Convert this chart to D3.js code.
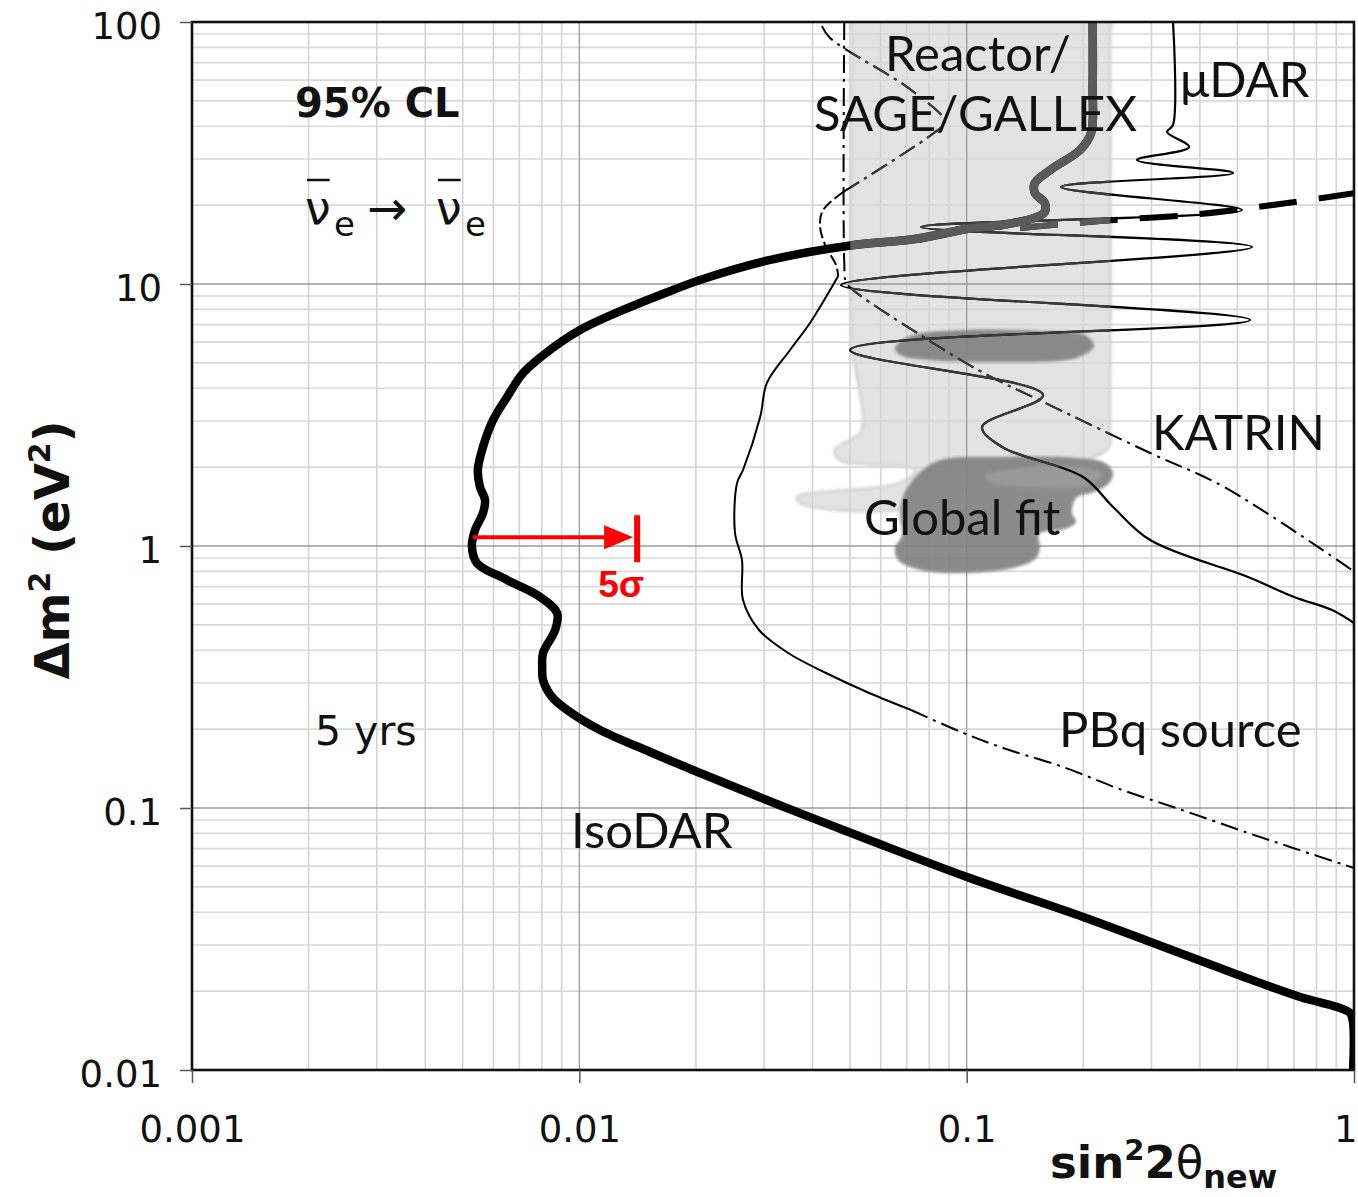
<!DOCTYPE html>
<html>
<head>
<meta charset="utf-8">
<script src="https://cdn.jsdelivr.net/npm/d3@7"></script>
<style>
  body { margin: 0; background: #fff; }
  svg { display: block; }
</style>
</head>
<body>
<div id="chart"></div>
<script>
/* DATA  [sin^2 2theta, dm^2 (eV^2)] */
const xTicks = [0.001, 0.01, 0.1, 1];
const xTickLabels = ["0.001", "0.01", "0.1", "1"];
const yTicks = [0.01, 0.1, 1, 10, 100];
const yTickLabels = ["0.01", "0.1", "1", "10", "100"];

// IsoDAR 5 yrs, 95% CL (thick)
const isodar = [
  [0.2115,100],[0.2115,56.5],[0.2095,37.7],[0.1963,32.5],[0.1642,27.2],[0.150,24.3],[0.150,22.25],
  [0.159,20.4],[0.159,18.8],[0.150,17.9],[0.1234,16.8],[0.1033,16.36],[0.0736,14.85],[0.0512,14.09],
  [0.0311,12.35],[0.0205,10.36],[0.01745,9.49],[0.01297,7.96],[0.01004,6.675],[0.0084,5.60],
  [0.00716,4.575],[0.00651,3.705],[0.00599,3.027],[0.00564,2.387],[0.00547,1.95],[0.00554,1.68],
  [0.00571,1.498],[0.00564,1.336],[0.00538,1.151],[0.00528,1.0],[0.00544,0.861],[0.00651,0.742],
  [0.00792,0.639],[0.00876,0.555],[0.00866,0.478],[0.00806,0.3905],[0.00802,0.345],[0.00806,0.308],
  [0.0085,0.2652],[0.00946,0.2325],[0.01131,0.1985],[0.01523,0.1636],[0.0205,0.136],[0.0338,0.1009],
  [0.056,0.0755],[0.1002,0.0545],[0.1998,0.03837],[0.303,0.03053],[0.4874,0.02346],[0.7259,0.019],
  [0.9046,0.0174],[0.977,0.0165],[0.9947,0.0151],[0.9947,0.01]
];
// thick dashed continuation at high dm^2
const isodarDashed = [[0.1374,16.36],[0.2211,17.4],[0.4005,18.5],[0.6444,20.2],[1.0,22.2]];

const muDAR = [
  [0.341,100],[0.341,40.45],[0.3292,38.04],[0.3752,33.33],[0.2754,29.74],[0.4874,26.53],[0.1753,23.45],
  [0.514,19.16],[0.0763,16.5],[0.5456,13.84],[0.0474,9.91],[0.5391,7.29],[0.05,5.6],[0.1575,3.77],
  [0.1096,2.846],[0.1234,2.387],[0.1998,1.834],[0.2388,1.409],[0.2976,1.054],[0.5328,0.7615],
  [0.7004,0.639],[0.878,0.5696],[1.0,0.508]
];

const katrin = [
  [0.0483,100],[0.0483,12.13],[0.0488,10.18],[0.0509,9.49],[0.0745,6.50],[0.1106,4.575],
  [0.1538,3.608],[0.2976,2.265],[0.4621,1.68],[1.0,0.80]
];

// PBq source, in pieces by line style
const pbqUpper = [[0.0423,96.5],[0.0444,86.9],[0.0719,55.0],[0.088,41.5],[0.0829,38.0],[0.048,22.44]];
const pbqKink = [[0.048,22.44],[0.0426,19.16],[0.0418,16.8],[0.0431,14.09],[0.046,11.82],[0.0466,10.73]];
const pbqMain = [
  [0.0466,10.73],[0.0394,7.10],[0.035,5.6],[0.0305,4.19],[0.0293,3.108],[0.02646,1.95],[0.02554,1.74],
  [0.02523,1.121],[0.0263,0.884],[0.02646,0.622],[0.0291,0.478],[0.0346,0.3905],[0.04335,0.3275],
  [0.056,0.2748],[0.0719,0.2366]
];
const pbqTail = [
  [0.0719,0.2366],[0.0967,0.195],[0.1242,0.1694],[0.1774,0.1434],[0.2519,0.1172],[0.3473,0.1],
  [0.5328,0.0803],[0.684,0.071],[1.0,0.059]
];

// Reactor / SAGE / GALLEX allowed region (light band)
const reactorBand = [
  [0.0506,100],[0.0506,90],[0.0506,5.6],[0.0515,4.82],[0.054,3.108],[0.0531,2.70],[0.0457,2.325],
  [0.0471,2.13],[0.0736,1.95],[0.0673,1.74],[0.0365,1.538],[0.0372,1.459],[0.0673,1.372],
  [0.122,1.786],[0.2133,2.186],[0.2332,2.387],[0.2346,2.846],[0.2346,90],[0.2346,100]
];

// Global fit regions (dark)
const globalFitUpper = [
  [0.0653,5.70],[0.0714,6.33],[0.0991,6.675],[0.1547,6.615],[0.2021,6.39],[0.2133,5.80],
  [0.1916,5.22],[0.1234,5.04],[0.0795,5.13],[0.0673,5.36]
];
const globalFitLower = [
  [0.0697,1.636],[0.0829,2.092],[0.1234,2.186],[0.1916,2.167],[0.2277,2.074],[0.2388,1.899],
  [0.2332,1.74],[0.2133,1.607],[0.1916,1.525],[0.1871,1.336],[0.1916,1.235],[0.1795,1.161],
  [0.1538,1.111],[0.1547,0.991],[0.1511,0.90],[0.1349,0.8315],[0.0991,0.789],[0.0758,0.81],
  [0.0665,0.884],[0.0653,0.9826],[0.0681,1.102],[0.0673,1.313]
];
const globalFitInner = [
  [0.1115,1.85],[0.1374,1.985],[0.1963,2.002],[0.2237,1.883],[0.2083,1.71],[0.1458,1.68],[0.1149,1.74]
];

// 5 sigma arrow: from IsoDAR reach to 5 sigma reach at dm^2 ~ 1
const arrowDm2 = 1.08, arrowFrom = 0.00531, arrowTo = 0.0141;

/* LAYOUT */
const width = 1358, height = 1197;
const plotLeft = 192, plotRight = 1354, plotTop = 22, plotBottom = 1070;

const x = d3.scaleLog().domain([0.001, 1]).range([plotLeft, plotRight]);
const y = d3.scaleLog().domain([0.01, 100]).range([plotBottom, plotTop]);

const svg = d3.select("#chart").append("svg")
  .attr("width", width)
  .attr("height", height);

const defs = svg.append("defs");
defs.append("clipPath").attr("id", "plotClip")
  .append("rect").attr("x", plotLeft).attr("y", plotTop)
  .attr("width", plotRight - plotLeft).attr("height", plotBottom - plotTop);

const line = d3.line().x(d => x(d[0])).y(d => y(d[1])).curve(d3.curveCatmullRom.alpha(0.5));
const blob = d3.line().x(d => x(d[0])).y(d => y(d[1])).curve(d3.curveCatmullRomClosed.alpha(0.5));

defs.append("clipPath").attr("id", "bandClip")
  .append("path").attr("d", blob(reactorBand));
defs.append("filter").attr("id", "soft")
  .append("feGaussianBlur").attr("stdDeviation", 1.6);

const plot = svg.append("g").attr("clip-path", "url(#plotClip)");

// band
plot.append("path")
  .attr("d", blob(reactorBand))
  .attr("fill", "#e3e3e3")
  .attr("stroke", "#d0d0d0")
  .attr("stroke-width", 2.5)
  .attr("filter", "url(#soft)");

// GRID
const decades = [0.001, 0.01, 0.1];
const xMinor = decades.flatMap(d => d3.range(2, 10).map(k => k * d));
const yMinor = [0.01, 0.1, 1, 10].flatMap(d => d3.range(2, 10).map(k => k * d));

plot.selectAll("line.xminor").data(xMinor).join("line")
  .attr("x1", d => x(d)).attr("x2", d => x(d)).attr("y1", plotTop).attr("y2", plotBottom)
  .attr("stroke", "#d4d4d4").attr("stroke-width", 1.6);
plot.selectAll("line.yminor").data(yMinor).join("line")
  .attr("y1", d => y(d)).attr("y2", d => y(d)).attr("x1", plotLeft).attr("x2", plotRight)
  .attr("stroke", "#d9d9d9").attr("stroke-width", 1.6);
plot.selectAll("line.xmajor").data(xTicks).join("line")
  .attr("x1", d => x(d)).attr("x2", d => x(d)).attr("y1", plotTop).attr("y2", plotBottom)
  .attr("stroke", "#9a9a9a").attr("stroke-width", 1.3);
plot.selectAll("line.ymajor").data(yTicks).join("line")
  .attr("y1", d => y(d)).attr("y2", d => y(d)).attr("x1", plotLeft).attr("x2", plotRight)
  .attr("stroke", "#9a9a9a").attr("stroke-width", 1.3);

// global fit blobs
plot.append("path").attr("d", blob(globalFitUpper)).attr("fill", "#828282").attr("opacity", 0.92).attr("filter", "url(#soft)");
plot.append("path").attr("d", blob(globalFitLower)).attr("fill", "#828282").attr("opacity", 0.92).attr("filter", "url(#soft)");
plot.append("path").attr("d", blob(globalFitInner)).attr("fill", "#999").attr("filter", "url(#soft)");

// CURVES
function drawCurves(g, thick, thin) {
  const dashDot = "18,6,3,6";
  g.append("path").attr("d", line(pbqUpper)).attr("fill", "none").attr("stroke", thin)
    .attr("stroke-width", 2).attr("stroke-dasharray", dashDot);
  g.append("path").attr("d", line(pbqKink)).attr("fill", "none").attr("stroke", thin)
    .attr("stroke-width", 2).attr("stroke-dasharray", "11,4");
  g.append("path").attr("d", line(pbqMain)).attr("fill", "none").attr("stroke", thin)
    .attr("stroke-width", 2);
  g.append("path").attr("d", line(pbqTail)).attr("fill", "none").attr("stroke", thin)
    .attr("stroke-width", 2).attr("stroke-dasharray", dashDot);
  g.append("path").attr("d", line(katrin)).attr("fill", "none").attr("stroke", thin)
    .attr("stroke-width", 2).attr("stroke-dasharray", dashDot);
  g.append("path").attr("d", line(muDAR)).attr("fill", "none").attr("stroke", thin)
    .attr("stroke-width", 2.2);
  g.append("path").attr("d", line(isodarDashed)).attr("fill", "none").attr("stroke", thick)
    .attr("stroke-width", 6).attr("stroke-dasharray", "38,22");
  g.append("path").attr("d", line(isodar)).attr("fill", "none").attr("stroke", thick)
    .attr("stroke-width", 8.5).attr("stroke-linejoin", "round");
}
drawCurves(plot.append("g"), "#000", "#000");
// inside the reactor band the curves read grey
drawCurves(plot.append("g").attr("clip-path", "url(#bandClip)"), "#5a5a5a", "#3a3a3a");

// 5 sigma arrow
const ay = y(arrowDm2), ax0 = x(arrowFrom), ax1 = x(arrowTo);
svg.append("line").attr("x1", ax0).attr("x2", ax1 - 30).attr("y1", ay).attr("y2", ay)
  .attr("stroke", "#ff0000").attr("stroke-width", 4);
svg.append("path")
  .attr("d", `M${ax1 - 4},${ay} L${ax1 - 33},${ay - 12} L${ax1 - 33},${ay + 12} Z`)
  .attr("fill", "#ff0000");
svg.append("line").attr("x1", ax1).attr("x2", ax1).attr("y1", ay - 22).attr("y2", ay + 25)
  .attr("stroke", "#ff0000").attr("stroke-width", 6);
svg.append("text").attr("x", ax1 - 39).attr("y", ay + 60)
  .attr("font-family", "Liberation Sans, Arial, sans-serif").attr("font-weight", "bold")
  .attr("font-size", 37).attr("fill", "#ff0000").text("5σ");

// FRAME
svg.append("rect").attr("x", plotLeft).attr("y", plotTop)
  .attr("width", plotRight - plotLeft).attr("height", plotBottom - plotTop)
  .attr("fill", "none").attr("stroke", "#111").attr("stroke-width", 2.6);

// AXES
const xAxis = d3.axisBottom(x).tickValues(xTicks).tickFormat((d, i) => xTickLabels[i])
  .tickSize(13).tickPadding(33);
const yAxis = d3.axisLeft(y).tickValues(yTicks).tickFormat((d, i) => yTickLabels[i])
  .tickSize(12).tickPadding(18);

const gx = svg.append("g").attr("transform", `translate(0,${plotBottom})`).call(xAxis);
const gy = svg.append("g").attr("transform", `translate(${plotLeft},0)`).call(yAxis);
[gx, gy].forEach(g => {
  g.select(".domain").remove();
  g.selectAll(".tick line").attr("stroke", "#555").attr("stroke-width", 1.5);
  g.selectAll(".tick text").attr("font-family", "DejaVu Sans, Verdana, sans-serif")
    .attr("font-size", 37).attr("fill", "#111");
});
gy.selectAll(".tick text").attr("dy", "0.45em");
// last x label sits against the right edge of the page
gx.selectAll(".tick text").filter(d => d === 1).attr("text-anchor", "end").attr("dx", 3);

// axis titles
const xt = svg.append("text").attr("x", 1050).attr("y", 1178)
  .attr("font-family", "DejaVu Sans, Verdana, sans-serif").attr("font-weight", "bold")
  .attr("font-size", 45).attr("fill", "#111");
xt.append("tspan").text("sin");
xt.append("tspan").attr("dy", -18).attr("font-size", 29).text("2");
xt.append("tspan").attr("dy", 18).text("2");
xt.append("tspan").attr("font-weight", "normal").text("θ");
xt.append("tspan").attr("dy", 10).attr("font-size", 32).text("new");

const yt = svg.append("text").attr("transform", "translate(69,550) rotate(-90)")
  .attr("text-anchor", "middle")
  .attr("font-family", "DejaVu Sans, Verdana, sans-serif").attr("font-weight", "bold")
  .attr("font-size", 48).attr("fill", "#111");
yt.append("tspan").text("Δm");
yt.append("tspan").attr("dy", -19).attr("font-size", 30).text("2");
yt.append("tspan").attr("dy", 19).text(" (eV");
yt.append("tspan").attr("dy", -19).attr("font-size", 30).text("2");
yt.append("tspan").attr("dy", 19).text(")");

// ANNOTATIONS
svg.append("text").attr("x", 295).attr("y", 117)
  .attr("font-family", "DejaVu Sans, Verdana, sans-serif").attr("font-weight", "bold")
  .attr("font-size", 40).attr("fill", "#111").text("95% CL");

function nuBar(xp) {
  const t = svg.append("text").attr("x", xp).attr("y", 224)
    .attr("font-family", "DejaVu Sans, Verdana, sans-serif").attr("font-size", 46).attr("fill", "#111")
    .text("ν");
  const b = t.node().getBBox();
  svg.append("line").attr("x1", b.x + 2).attr("x2", b.x + b.width - 1).attr("y1", 180).attr("y2", 180)
    .attr("stroke", "#111").attr("stroke-width", 2.5);
  svg.append("text").attr("x", xp + 29).attr("y", 236)
    .attr("font-family", "DejaVu Sans, Verdana, sans-serif").attr("font-size", 34).attr("fill", "#111")
    .text("e");
}
nuBar(305);
nuBar(436);
svg.append("text").attr("x", 367).attr("y", 225)
  .attr("font-family", "DejaVu Sans, Verdana, sans-serif").attr("font-size", 48).attr("fill", "#111")
  .text("→");

svg.append("text").attr("x", 315).attr("y", 745)
  .attr("font-family", "DejaVu Sans, Verdana, sans-serif").attr("font-size", 41).attr("fill", "#111")
  .text("5 yrs");

const labels = [
  { t: "Reactor/", x: 885, y: 71 },
  { t: "SAGE/GALLEX", x: 814, y: 131 },
  { t: "μDAR", x: 1180, y: 97 },
  { t: "KATRIN", x: 1152, y: 450 },
  { t: "Global fit", x: 864, y: 535 },
  { t: "PBq source", x: 1059, y: 747 },
  { t: "IsoDAR", x: 571, y: 848 }
];
svg.selectAll("text.lab").data(labels).join("text")
  .attr("class", "lab")
  .attr("x", d => d.x).attr("y", d => d.y)
  .attr("font-family", "Lato, 'Open Sans', sans-serif")
  .attr("font-size", 49).attr("fill", "#111")
  .text(d => d.t);
</script>
</body>
</html>
